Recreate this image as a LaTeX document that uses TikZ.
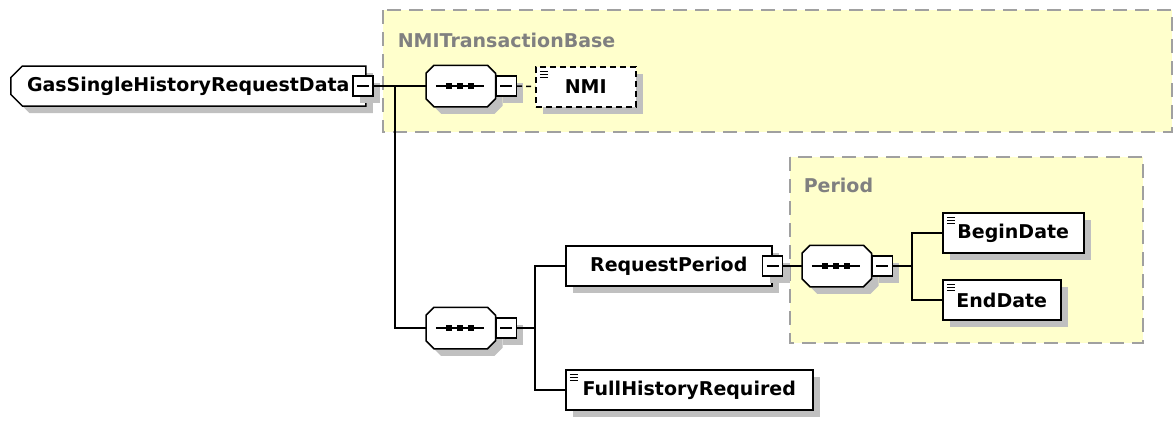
\documentclass[tikz,border=0pt]{standalone}
\usepackage{fontspec}
\setmainfont{DejaVu Sans}
\usetikzlibrary{shapes,shapes.misc}
\usetikzlibrary{shadows}
\usetikzlibrary{calc}
\definecolor{grpfill}{RGB}{255,255,204}
\definecolor{grpline}{RGB}{160,160,160}
\definecolor{shadowgray}{RGB}{192,192,192}
\newcommand\octagon[3]{($(#1.north west)+(8pt,0pt)+(#2,#3)$) -- ($(#1.north east)+(-8pt,0pt)+(#2,#3)$)
  -- ($(#1.north east)+(0pt,-8pt)+(#2,#3)$) -- ($(#1.south east)+(0pt,8pt)+(#2,#3)$)
  -- ($(#1.south east)+(-8pt,0pt)+(#2,#3)$) -- ($(#1.south west)+(8pt,0pt)+(#2,#3)$)
  -- ($(#1.south west)+(0pt,8pt)+(#2,#3)$) -- ($(#1.north west)+(0pt,-8pt)+(#2,#3)$) -- cycle}
\begin{document}
\begin{tikzpicture}[x=1pt,y=-1pt,line width=1.5pt,
  font=\fontsize{19}{22}\selectfont\bfseries,
  dropsh/.style={drop shadow={shadow xshift=7pt,shadow yshift=-7pt,fill=shadowgray,opacity=1}},
  grp/.style={draw=grpline,fill=grpfill,dash pattern=on 14pt off 8pt,line width=2pt},
  grptitle/.style={text=black!50,anchor=west,inner sep=0pt},
  elem/.style={draw,fill=white,dropsh,anchor=west,minimum height=40pt,inner sep=0pt},
  simple/.style={elem,path picture={
    \foreach \k in {0,1,2}
      \draw[black,line width=1pt,solid] ($(path picture bounding box.north west)+(4pt,{(-4-3*\k)*1pt})$) -- ++(8pt,0pt);}},
  minus/.style={draw,fill=white,dropsh,minimum size=20pt,inner sep=0pt,path picture={
    \draw[black,line width=1.5pt] ($(path picture bounding box.west)+(4pt,0pt)$) -- ($(path picture bounding box.east)+(-4pt,0pt)$);}},
  seq/.style={rectangle,anchor=west,minimum width=68pt,minimum height=40pt,inner sep=0pt}
]
\useasboundingbox (0,0) rectangle (1174,421);
\path[grp] (383,10) rectangle (1172,132);
\node[grptitle] (tbase) at (397,40) {NMITransactionBase};
\path[grp] (790,157) rectangle (1143,343);
\node[grptitle] (tperiod) at (803,185) {Period};

\node[seq] (seqa) at (426,86) {};
\node[seq] (seqb) at (426,328) {};
\node[seq] (seqc) at (802,266) {};
\foreach \s in {seqa,seqb,seqc} {
  \fill[shadowgray] \octagon{\s}{7pt}{-7pt};
  \filldraw[fill=white] \octagon{\s}{0pt}{0pt};
  \draw ($(\s.center)+(-25pt,0pt)$) -- ++(48pt,0pt);
  \foreach \dx in {-12,-1,10}
    \fill ($(\s.center)+(\dx pt,0pt)$) ++(-3pt,-3pt) rectangle ++(6pt,6pt);
}

\node[elem,chamfered rectangle,chamfered rectangle corners={north west,south west},
  chamfered rectangle xsep=8pt,minimum width=355pt] (root) at (10,86) {GasSingleHistoryRequestData\hspace{14pt}};
\node[minus] (rootm) at (363,86) {};
\coordinate (j1) at (395,86);
\node[minus,anchor=west] (seqam) at (seqa.east) {};
\node[simple,dash pattern=on 6pt off 4pt,minimum width=100pt] (nmi) at (535,87) {NMI\hspace{26pt}};

\node[minus,anchor=west] (seqbm) at (seqb.east) {};
\coordinate (j2) at (535,328);
\node[elem,minimum width=206pt] (rp) at (565,266) {RequestPeriod\hspace{10pt}};
\node[minus] (rpm) at (rp.east) {};
\node[simple,minimum width=247pt] (fh) at (565,390) {FullHistoryRequired};

\node[minus,anchor=west] (seqcm) at (seqc.east) {};
\coordinate (j3) at (912,266);
\node[simple,minimum width=141pt] (bd) at (942,233) {BeginDate};
\node[simple,minimum width=118pt] (ed) at (942,300) {EndDate};

\draw (rootm) -- (seqa);
\draw (j1) |- (seqb);
\draw[dash pattern=on 5pt off 4pt] (seqam) -- (nmi);
\draw (seqbm) -- (j2);
\draw (rp) -| (j2) |- (fh);
\draw (rpm) -- (seqc);
\draw (seqcm) -- (j3);
\draw (bd) -| (j3) |- (ed);
\end{tikzpicture}
\end{document}
